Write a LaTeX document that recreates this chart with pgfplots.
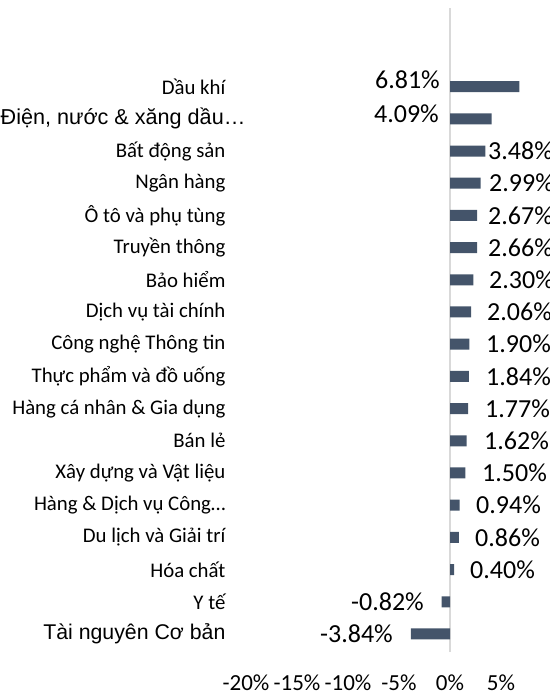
\documentclass[border=0pt]{standalone}
\usepackage{fontspec}
\setmainfont{Carlito}
\newfontfamily\arialf{Liberation Sans}
\usepackage{pgfplots}
\pgfplotsset{compat=1.18}
\definecolor{barc}{HTML}{44546A}
\definecolor{axc}{HTML}{D9D9D9}
\begin{document}
\begin{tikzpicture}
\begin{axis}[
 x=10.2pt, y=32.2pt,
 xmin=-22, xmax=7, ymin=-0.56, ymax=19.44,
 enlargelimits=false,
 axis line style={draw=none},
 major tick length=0pt,
 /pgf/number format/assume math mode=true,
 xtick={-20,-15,-10,-5,0,5},
 xticklabels={-20\%,-15\%,-10\%,-5\%,0\%,5\%},
 ytick={0,...,17},
 yticklabels={{\arialf\fontsize{21.3}{22}\selectfont Tài nguyên Cơ bản},
   Y tế, Hóa chất, Du lịch và Giải trí, Hàng \& Dịch vụ Công…,
   Xây dựng và Vật liệu, Bán lẻ, Hàng cá nhân \& Gia dụng,
   Thực phẩm và đồ uống, Công nghệ Thông tin, Dịch vụ tài chính,
   Bảo hiểm, Truyền thông, Ô tô và phụ tùng, Ngân hàng, Bất động sản,
   {\arialf\fontsize{21.6}{22}\selectfont Điện, nước \& xăng dầu…\hspace*{-20pt}},
   Dầu khí},
 xticklabel style={font=\fontsize{23}{23}\selectfont, anchor=center, yshift=-31pt},
 yticklabel style={font=\fontsize{20.8}{21}\selectfont, anchor=east, inner sep=0pt},
 extra x ticks={0}, extra x tick labels={},
 extra x tick style={grid=major, major grid style={draw=axc, line width=1.5pt}},
 clip=false,
]
\addplot[xbar, bar width=11pt, fill=barc, draw=none] coordinates {
 (-3.84,0) (-0.82,1) (0.40,2) (0.86,3) (0.94,4) (1.50,5) (1.62,6)
 (1.77,7) (1.84,8) (1.90,9) (2.06,10) (2.30,11) (2.66,12) (2.67,13)
 (2.99,14) (3.48,15) (4.09,16) (6.81,17)
};
% data labels to the right of the bars
\addplot[draw=none, mark=none, nodes near coords={\pgfplotspointmeta\%},
  point meta=explicit symbolic,
  every node near coord/.append style={anchor=west, inner sep=0pt, font=\fontsize{26}{26}\selectfont}]
  table[meta=l] {
x y l
1.96 2 0.40
2.45 3 0.86
2.55 4 0.94
3.14 5 1.50
3.33 6 1.62
3.43 7 1.77
3.53 8 1.84
3.53 9 1.90
3.63 10 2.06
3.82 11 2.30
3.73 12 2.66
3.73 13 2.67
3.82 14 2.99
3.73 15 3.48
};
% data labels to the left
\addplot[draw=none, mark=none, nodes near coords={\pgfplotspointmeta\%},
  point meta=explicit symbolic,
  every node near coord/.append style={anchor=east, inner sep=0pt, font=\fontsize{26}{26}\selectfont}]
  table[meta=l] {
x y l
-5.59 0 -3.84
-2.55 1 -0.82
-1.08 16.15 4.09
-0.98 17.2 6.81
};
\coordinate (BL) at (axis cs:-44.12,-1.957);
\coordinate (TR) at (axis cs:9.80,19.69);
\end{axis}
\pgfresetboundingbox
\useasboundingbox (BL) rectangle (TR);
\end{tikzpicture}
\end{document}
